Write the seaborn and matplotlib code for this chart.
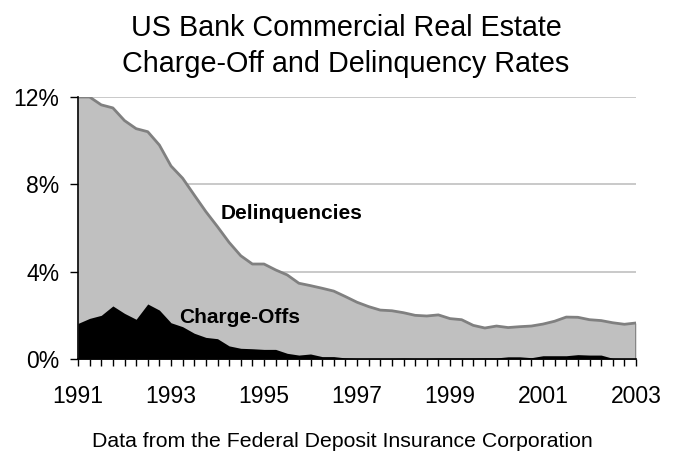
import numpy as np
import pandas as pd
import matplotlib
matplotlib.use("Agg")
import matplotlib.pyplot as plt
import seaborn as sns

# Quarterly data, 1991Q1 .. 2003Q1 (percent)
quarters = [1991 + i / 4 for i in range(49)]
delinquencies = [12.0, 12.0, 11.64, 11.5, 10.92, 10.55, 10.41, 9.8, 8.84, 8.28,
                 7.51, 6.75, 6.06, 5.34, 4.73, 4.35, 4.35, 4.08, 3.85, 3.47,
                 3.36, 3.24, 3.11, 2.86, 2.6, 2.4, 2.24, 2.21, 2.12, 2.0,
                 1.97, 2.02, 1.85, 1.8, 1.54, 1.42, 1.51, 1.44, 1.48, 1.51,
                 1.6, 1.73, 1.92, 1.91, 1.8, 1.76, 1.66, 1.59, 1.65]
charge_offs = [1.63, 1.86, 2.0, 2.43, 2.09, 1.82, 2.52, 2.24, 1.66, 1.48,
               1.18, 0.99, 0.93, 0.6, 0.49, 0.47, 0.44, 0.44, 0.26, 0.18,
               0.23, 0.11, 0.11, 0.05, 0.03, 0.03, 0.03, 0.03, 0.04, 0.03,
               0.03, 0.04, 0.04, 0.04, 0.04, 0.05, 0.05, 0.1, 0.1, 0.06,
               0.15, 0.15, 0.15, 0.2, 0.18, 0.18, 0.03, 0.02, 0.02]
y_ticks = [0, 4, 8, 12]
y_tick_labels = ["0%", "4%", "8%", "12%"]
x_label_years = [1991, 1993, 1995, 1997, 1999, 2001, 2003]

df = pd.DataFrame({"quarter": quarters, "Delinquencies": delinquencies,
                   "Charge-Offs": charge_offs})

sns.set_theme(style="white")
plt.rcParams["font.family"] = ["Liberation Sans", "DejaVu Sans"]
plt.rcParams["text.color"] = "black"
plt.rcParams["xtick.color"] = "black"
plt.rcParams["ytick.color"] = "black"

fig = plt.figure(figsize=(6.73, 4.51), dpi=100)
ax = fig.add_axes([78 / 673, 1 - 359 / 451, (636 - 78) / 673, (359 - 97) / 451])

for yv in y_ticks[1:]:
    ax.axhline(yv, color="#c0c0c0", lw=1.2, zorder=0)

ax.fill_between(df["quarter"], 0, df["Delinquencies"], color="#c0c0c0", lw=0, zorder=1)
sns.lineplot(data=df, x="quarter", y="Delinquencies", ax=ax, color="#808080",
             lw=2, zorder=2)
ax.vlines(df["quarter"].iloc[-1], 0, df["Delinquencies"].iloc[-1], color="#808080",
          lw=2, zorder=2)
ax.fill_between(df["quarter"], 0, df["Charge-Offs"], color="black", lw=0, zorder=3)

ax.set_xlim(quarters[0], quarters[-1])
ax.set_ylim(0, 12)
ax.set_xlabel("")
ax.set_ylabel("")

ax.set_xticks(quarters)
ax.set_xticklabels([str(int(q)) if (q in x_label_years) else "" for q in quarters],
                   fontsize=16.5, color="black")
ax.set_yticks(y_ticks)
ax.set_yticklabels(y_tick_labels, fontsize=16.5, color="black")
ax.tick_params(axis="x", direction="out", length=5, width=1, color="black", pad=14,
               bottom=True)
ax.tick_params(axis="y", direction="out", length=6, width=1, color="black", pad=7.5,
               left=True)

for s in ["top", "right"]:
    ax.spines[s].set_visible(False)
for s in ["left", "bottom"]:
    ax.spines[s].set_color("black")
    ax.spines[s].set_linewidth(1.2)
    ax.spines[s].set_zorder(5)

ax.text(1995.6, 6.65, "Delinquencies", fontsize=15, fontweight="bold",
        color="black", ha="center", va="center", zorder=6)
ax.text(1994.47, 1.92, "Charge-Offs", fontsize=15, fontweight="bold",
        color="black", ha="center", va="center", zorder=6)

fig.text(346 / 673, 1 - 36.5 / 451, "US Bank Commercial Real Estate", fontsize=20.7,
         color="black", ha="center", va="baseline")
fig.text(346 / 673, 1 - 71.5 / 451, "Charge-Off and Delinquency Rates", fontsize=20.7,
         color="black", ha="center", va="baseline")
fig.text(342.5 / 673, 1 - 447 / 451, "Data from the Federal Deposit Insurance Corporation",
         fontsize=15.3, color="black", ha="center", va="baseline")

fig.savefig("out.png", dpi=100, facecolor="white")
